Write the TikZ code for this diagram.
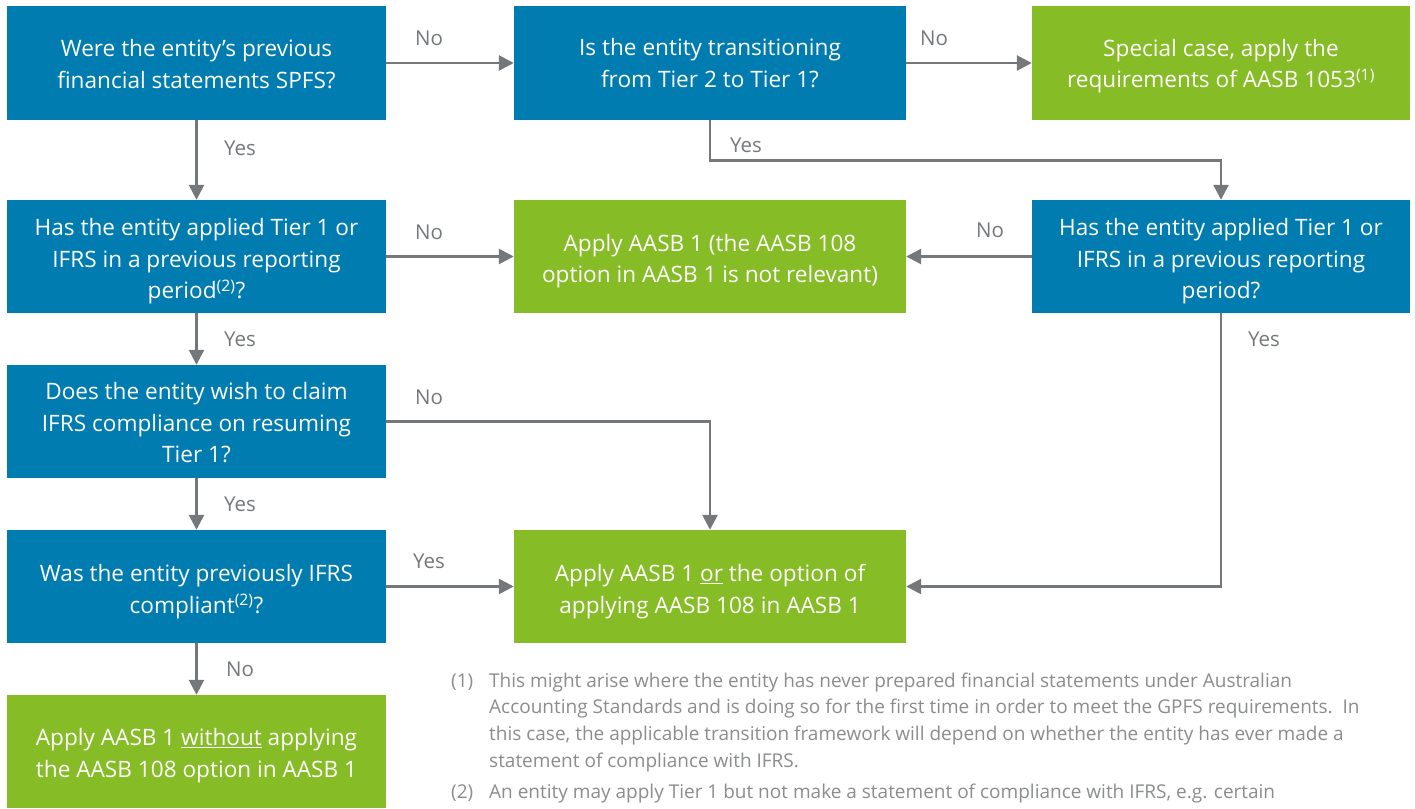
\documentclass[tikz,border=0pt]{standalone}
\usepackage{fontspec}
\setmainfont{Open Sans}
\usetikzlibrary{arrows.meta}
\definecolor{dblue}{HTML}{007CB0}
\definecolor{dgreen}{HTML}{86BC25}
\definecolor{dgray}{HTML}{75787B}
\definecolor{fgray}{HTML}{8A8C8E}
\tikzset{
  boxbase/.style={rectangle, inner sep=0pt, align=center, text=white,
    font=\fontsize{22.6}{31.5}\selectfont},
  bluebox/.style={boxbase, fill=dblue},
  greenbox/.style={boxbase, fill=dgreen},
  colA/.style={minimum width=379pt, minimum height=113pt},
  colB/.style={minimum width=392pt, minimum height=113pt},
  colC/.style={minimum width=378pt, minimum height=113pt},
  conn/.style={draw=dgray, line width=2.6pt, -{Triangle[length=15pt,width=15pt]}},
  lbl/.style={text=dgray, font=\fontsize{20.5}{24}\selectfont, inner sep=0pt},
  fn/.style={text=fgray, font=\fontsize{19}{26.7}\selectfont, inner sep=0pt},
}
\newcommand{\supnote}[1]{\smash{\textsuperscript{#1}}}
\newcommand{\lowr}[1]{\rule{0pt}{#1pt}}
\begin{document}
\begin{tikzpicture}[x=1pt, y=-1pt]
\useasboundingbox (0,0) rectangle (1415,808);
% boxes
\node[bluebox, colA] (A) at (196.5,63) {\lowr{19}Were the entity’s previous\\financial statements SPFS?};
\node[bluebox, colB] (B) at (710,63) {Is the entity transitioning\\from Tier 2 to Tier 1?};
\node[greenbox, colC] (C) at (1221,63) {\lowr{23}Special case, apply the\\requirements of AASB 1053\supnote{(1)}};
\node[bluebox, colA] (D) at (196.5,256.5) {\lowr{27}Has the entity applied Tier 1 or\\IFRS in a previous reporting\\period\supnote{(2)}?};
\node[greenbox, colB] (E) at (710,256.5) {\lowr{26}Apply AASB 1 (the AASB 108\\option in AASB 1 is not relevant)};
\node[bluebox, colC] (F) at (1221,256.5) {\lowr{27}Has the entity applied Tier 1 or\\IFRS in a previous reporting\\period?};
\node[bluebox, colA] (G) at (196.5,421.5) {\lowr{20}Does the entity wish to claim\\IFRS compliance on resuming\\Tier 1?};
\node[bluebox, colA] (H) at (196.5,586.5) {\lowr{27}Was the entity previously IFRS\\compliant\supnote{(2)}?};
\node[greenbox, colB] (I) at (710,586.5) {\lowr{27}Apply AASB 1 \underline{or} the option of\\applying AASB 108 in AASB 1};
\node[greenbox, colA] (J) at (196.5,751.5) {\lowr{25}Apply AASB 1 \underline{without} applying\\the AASB 108 option in AASB 1};
% connectors
\draw[conn] (A.east) -- (B.west);
\draw[conn] (B.east) -- (C.west);
\draw[conn] (A.south) -- (D.north);
\draw[conn] (B.south) -- ++(0,41) -| (F.north);
\draw[conn] (D.east) -- (E.west);
\draw[conn] (F.west) -- (E.east);
\draw[conn] (D.south) -- (G.north);
\draw[conn] (F.south) |- (I.east);
\draw[conn] (G.east) -| (I.north);
\draw[conn] (G.south) -- (H.north);
\draw[conn] (H.east) -- (I.west);
\draw[conn] (H.south) -- (J.north);
% labels
\node[lbl] (l1) at (429,38) {No};
\node[lbl] (l2) at (934,38) {No};
\node[lbl] (l3) at (240,148) {Yes};
\node[lbl] (l4) at (746,145) {Yes};
\node[lbl] (l5) at (429,232) {No};
\node[lbl] (l6) at (990,230) {No};
\node[lbl] (l7) at (240,339) {Yes};
\node[lbl] (l8) at (1264,339) {Yes};
\node[lbl] (l9) at (429,397) {No};
\node[lbl] (l10) at (240,504) {Yes};
\node[lbl] (l11) at (429,561) {Yes};
\node[lbl] (l12) at (240,669) {No};
% footnotes
\node[fn, anchor=base west] (n1) at (451,687) {(1)};
\node[fn, anchor=base west] (f1) at (489,687) {\parbox[t]{920pt}{\fontsize{19}{26.7}\selectfont\raggedright This might arise where the entity has never prepared financial statements under Australian\\Accounting Standards and is doing so for the first time in order to meet the GPFS requirements.\ \ In\\this case, the applicable transition framework will depend on whether the entity has ever made a\\statement of compliance with IFRS.}};
\node[fn, anchor=base west] (n2) at (451,798) {(2)};
\node[fn, anchor=base west] (f2) at (489,798) {An entity may apply Tier 1 but not make a statement of compliance with IFRS, e.g. certain};
\end{tikzpicture}
\end{document}
